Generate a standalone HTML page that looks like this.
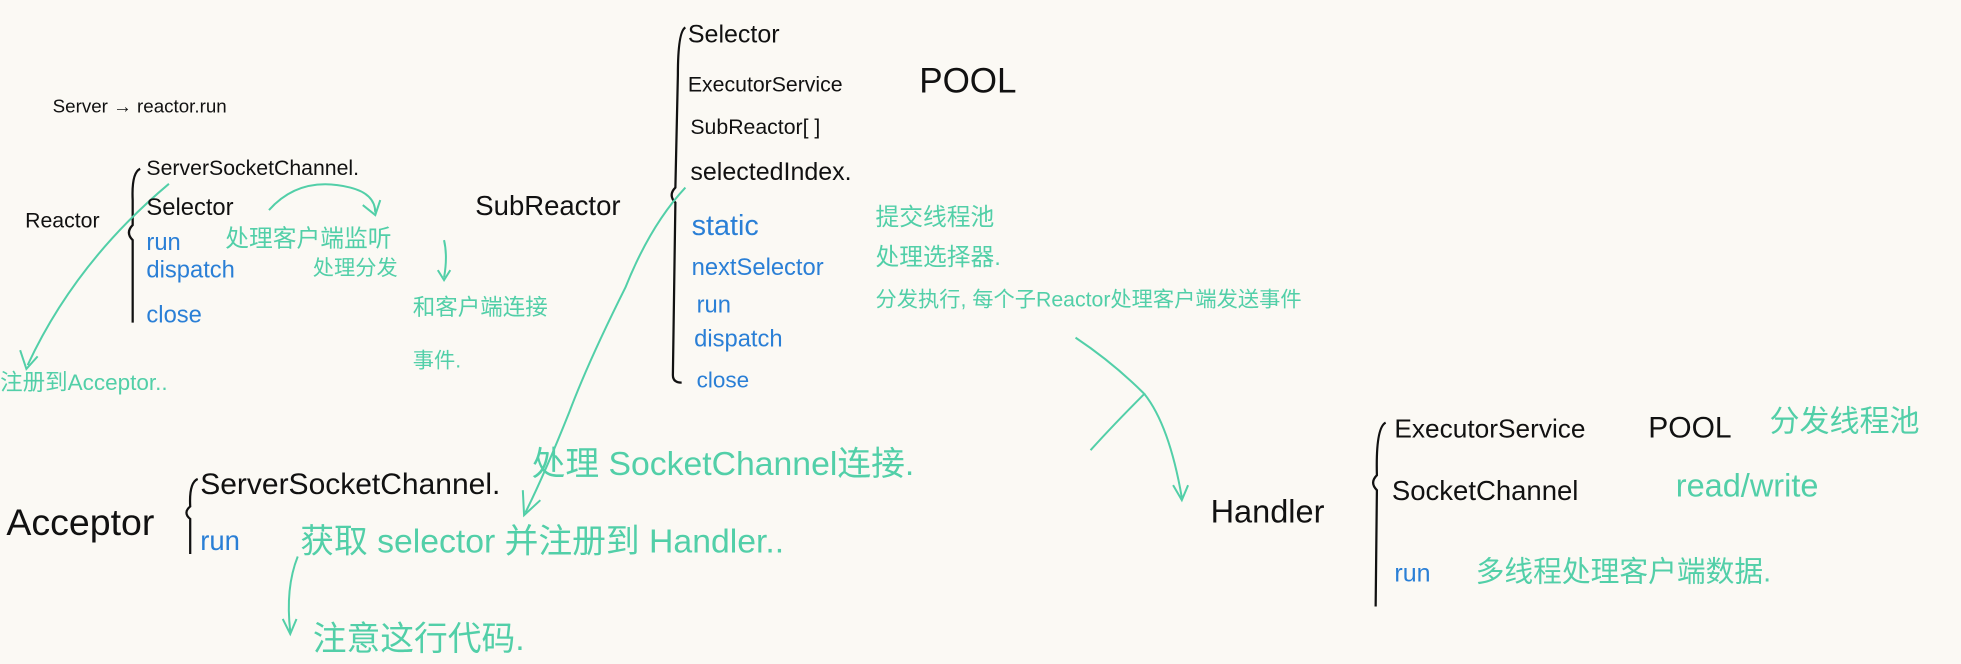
<!DOCTYPE html>
<html><head><meta charset="utf-8"><style>
html,body{margin:0;padding:0;background:#fbf9f4;}
svg{display:block}
text{font-family:"Liberation Sans","Noto Sans CJK SC",sans-serif;}
.k{fill:#111}.b{fill:#2a7fd6}.t{fill:#52cfa8}
</style></head><body>
<svg width="1961" height="664" viewBox="0 0 1568 531" xmlns="http://www.w3.org/2000/svg">
<rect width="1568" height="531" fill="#fbf9f4"/>
<g fill="none" stroke="#111" stroke-width="1.8">
<path d="M112,135 Q105,138 106,160 L106,180 Q100,186 106,192 L106,258"/>
<path d="M548,22 Q542,25 542,60 L540,150 Q534,156 540,162 L538,300 Q538,306 545,306"/>
<path d="M158,383 Q151,386 152,405 Q146,410 152,415 L152,443"/>
<path d="M1108,338 Q1100,342 1101,380 Q1095,386 1101,392 L1100,485"/>
</g>
<g fill="none" stroke="#52cfa8" stroke-width="1.6">
<path d="M215,168 Q240,140 280,150 Q300,155 300,170"/><path d="M290,164 L300,172 L304,160"/>
<path d="M355,192 Q358,205 355,222"/><path d="M350,216 L355,224 L360,216"/>
<path d="M135,147 Q60,210 22,292"/><path d="M16,280 L21,295 L30,285"/>
<path d="M548,150 Q520,180 500,230 Q470,290 455,330 Q435,380 420,410"/><path d="M418,392 L419,412 L432,400"/>
<path d="M860,270 Q890,290 915,315 Q890,340 872,360"/>
<path d="M915,315 Q935,340 945,398"/><path d="M938,388 L945,400 L950,388"/>
<path d="M238,445 Q228,470 232,505"/><path d="M226,495 L232,507 L237,495"/>
</g>
<text class="k" x="42" y="90" font-size="15">Server → reactor.run</text>
<text class="k" x="20" y="182" font-size="17">Reactor</text>
<text class="k" x="117" y="140" font-size="17">ServerSocketChannel.</text>
<text class="k" x="117" y="172" font-size="19">Selector</text>
<text class="b" x="117" y="200" font-size="19">run</text>
<text class="t" x="180" y="197" font-size="19">处理客户端监听</text>
<text class="b" x="117" y="222" font-size="19">dispatch</text>
<text class="t" x="250" y="220" font-size="17">处理分发</text>
<text class="b" x="117" y="258" font-size="19">close</text>
<text class="t" x="330" y="252" font-size="18">和客户端连接</text>
<text class="t" x="330" y="294" font-size="17">事件.</text>
<text class="t" x="0" y="312" font-size="18">注册到Acceptor..</text>
<text class="k" x="380" y="172" font-size="22">SubReactor</text>
<text class="k" x="550" y="34" font-size="20">Selector</text>
<text class="k" x="550" y="73" font-size="17">ExecutorService</text>
<text class="k" x="735" y="74" font-size="28">POOL</text>
<text class="k" x="552" y="107" font-size="17">SubReactor[ ]</text>
<text class="k" x="552" y="144" font-size="20">selectedIndex.</text>
<text class="b" x="553" y="188" font-size="23">static</text>
<text class="b" x="553" y="220" font-size="19">nextSelector</text>
<text class="b" x="557" y="250" font-size="19">run</text>
<text class="b" x="555" y="277" font-size="19">dispatch</text>
<text class="b" x="557" y="310" font-size="18">close</text>
<text class="t" x="700" y="180" font-size="19">提交线程池</text>
<text class="t" x="700" y="212" font-size="19">处理选择器.</text>
<text class="t" x="700" y="245" font-size="17">分发执行, 每个子Reactor处理客户端发送事件</text>
<text class="t" x="425" y="380" font-size="27">处理 SocketChannel连接.</text>
<text class="k" x="5" y="428" font-size="30">Acceptor</text>
<text class="k" x="160" y="395" font-size="24">ServerSocketChannel.</text>
<text class="b" x="160" y="440" font-size="22">run</text>
<text class="t" x="240" y="442" font-size="27">获取 selector 并注册到 Handler..</text>
<text class="t" x="250" y="520" font-size="27">注意这行代码.</text>
<text class="k" x="968" y="418" font-size="26">Handler</text>
<text class="k" x="1115" y="350" font-size="21">ExecutorService</text>
<text class="k" x="1318" y="350" font-size="24">POOL</text>
<text class="t" x="1415" y="345" font-size="24">分发线程池</text>
<text class="k" x="1113" y="400" font-size="22">SocketChannel</text>
<text class="t" x="1340" y="397" font-size="26">read/write</text>
<text class="b" x="1115" y="465" font-size="20">run</text>
<text class="t" x="1180" y="465" font-size="23">多线程处理客户端数据.</text>
</svg>
</body></html>
